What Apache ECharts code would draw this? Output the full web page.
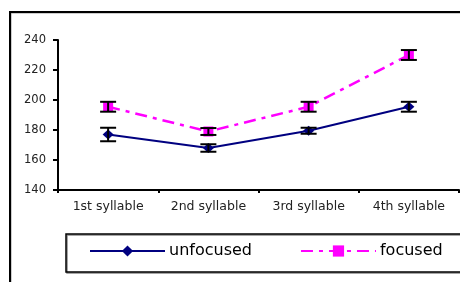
<!DOCTYPE html>
<html>
<head>
<meta charset="utf-8">
<script src="https://cdn.jsdelivr.net/npm/echarts@6/dist/echarts.min.js"></script>
<style>
  html, body { margin: 0; padding: 0; background: #fff; }
  #chart { width: 460px; height: 282px; }
</style>
</head>
<body>
<div id="chart"></div>
<script>
const syllables = ['1st syllable', '2nd syllable', '3rd syllable', '4th syllable']
const unfocused = [177, 168, 179.5, 195.5]
const unfocusedErr = [4.5, 2.5, 2, 3.3]
const focused = [195.5, 179, 195.5, 230]
const focusedErr = [3.3, 2.3, 3.3, 3.3]

const yTicks = { min: 140, max: 240, interval: 20 }

var chart = echarts.init(document.getElementById('chart'))

// error bar rows: [category index, low, high]
const errRows = (vals, errs) => vals.map((v, i) => [i, v - errs[i], v + errs[i]])

const renderErr = (params, api) => {
  var x = api.coord([api.value(0), api.value(1)])[0]
  var lo = api.coord([api.value(0), api.value(1)])[1]
  var hi = api.coord([api.value(0), api.value(2)])[1]
  var half = 8
  var style = { stroke: '#000', lineWidth: 2 }
  return {
    type: 'group',
    children: [
      { type: 'line', shape: { x1: x, y1: lo, x2: x, y2: hi }, style: style },
      { type: 'line', shape: { x1: x - half, y1: lo, x2: x + half, y2: lo }, style: style },
      { type: 'line', shape: { x1: x - half, y1: hi, x2: x + half, y2: hi }, style: style }
    ]
  }
}

var option = {
  animation: false,
  backgroundColor: '#fff',
  grid: { left: 58, right: 1, top: 40, bottom: 92 },
  graphic: [
    {
      type: 'rect', z: -1,
      shape: { x: 11, y: 13, width: 520, height: 320 },
      style: { fill: 'none', stroke: '#999', lineWidth: 1 }
    },
    {
      type: 'rect', z: 0,
      shape: { x: 10, y: 12, width: 520, height: 320 },
      style: { fill: 'none', stroke: '#000', lineWidth: 2 }
    },
    {
      type: 'rect', z: 0,
      shape: { x: 66, y: 234, width: 520, height: 38 },
      style: { fill: 'none', stroke: '#000', lineWidth: 1.5, shadowColor: '#888', shadowOffsetX: 1, shadowOffsetY: 1 }
    }
  ],
  legend: {
    left: 89,
    top: 243,
    padding: 0,
    itemWidth: 75,
    itemHeight: 14,
    itemGap: 48,
    data: ['unfocused', 'focused'],
    textStyle: { fontFamily: 'DejaVu Sans', fontSize: 16, color: '#000', padding: [0, 0, 0, -1] }
  },
  xAxis: {
    type: 'category',
    data: syllables,
    boundaryGap: true,
    axisLine: { lineStyle: { color: '#000', width: 2 } },
    axisTick: { show: true, length: 3, lineStyle: { color: '#000', width: 2 } },
    axisLabel: { fontFamily: 'DejaVu Sans', fontSize: 12.5, color: '#222', margin: 10 }
  },
  yAxis: {
    type: 'value',
    min: yTicks.min,
    max: yTicks.max,
    interval: yTicks.interval,
    splitLine: { show: false },
    axisLine: { show: true, lineStyle: { color: '#000', width: 2 } },
    axisTick: { show: true, length: 5, lineStyle: { color: '#000', width: 2 } },
    axisLabel: { fontFamily: 'DejaVu Sans', fontSize: 11.5, color: '#222', margin: 12 }
  },
  series: [
    {
      name: 'unfocused',
      type: 'line',
      data: unfocused,
      symbol: 'diamond',
      symbolSize: [11, 10],
      itemStyle: { color: '#000080' },
      lineStyle: { color: '#000080', width: 2 },
      z: 2
    },
    {
      name: 'focused',
      type: 'line',
      data: focused,
      symbol: 'rect',
      symbolSize: [10, 10],
      itemStyle: { color: '#ff00ff' },
      lineStyle: { color: '#ff00ff', width: 2.5, type: [12, 6, 4, 6] },
      z: 2
    },
    {
      type: 'custom',
      renderItem: renderErr,
      data: errRows(unfocused, unfocusedErr),
      z: 5
    },
    {
      type: 'custom',
      renderItem: renderErr,
      data: errRows(focused, focusedErr),
      z: 5
    }
  ]
}

chart.setOption(option)
</script>
</body>
</html>
